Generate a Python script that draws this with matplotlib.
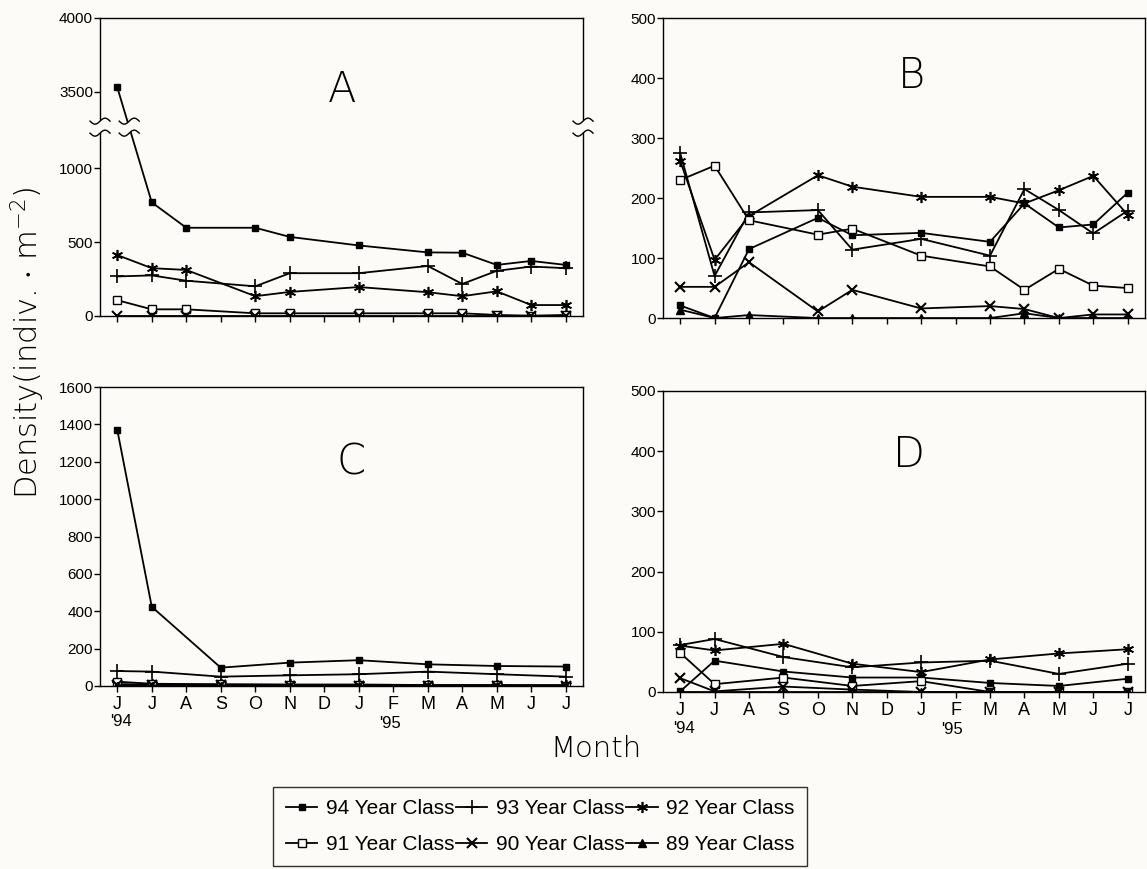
import numpy as np
import matplotlib
matplotlib.use('Agg')
import matplotlib.pyplot as plt
import matplotlib.patches as mpatches

plt.rcParams['font.family'] = ['Liberation Sans', 'DejaVu Sans']
plt.rcParams['mathtext.default'] = 'regular'

# Monate (Juni '94 - Juli '95)
months = ['J', 'J', 'A', 'S', 'O', 'N', 'D', 'J', 'F', 'M', 'A', 'M', 'J', 'J']
top_idx = [0, 1, 2, 4, 5, 7, 9, 10, 11, 12, 13]
bot_idx = [0, 1, 3, 5, 7, 9, 11, 13]

# Panel A
a94 = [3530, 770, 598, 598, 536, 478, 431, 429, 346, 373, 346]
a93 = [268, 275, 239, 201, 290, 290, 339, 217, 306, 335, 324]
a92 = [413, 324, 312, 134, 163, 196, 161, 134, 167, 74, 74]
a91 = [107, 45, 45, 18, 18, 18, 18, 18, 7, 2, 7]
a90 = [0, 0, 0, 0, 0, 0, 0, 0, 0, 0, 0]

# Panel B
b94 = [21, 0, 115, 167, 138, 142, 127, 191, 151, 156, 209]
b93 = [275, 70, 176, 180, 114, 132, 104, 215, 180, 141, 179]
b92 = [262, 97, 170, 238, 219, 202, 202, 191, 213, 237, 172]
b91 = [230, 254, 163, 139, 149, 104, 86, 47, 82, 54, 50]
b90 = [52, 52, 93, 11, 47, 16, 20, 15, 0, 6, 6]
b89 = [14, 0, 5, 0, 0, 0, 0, 8, 0, 0, 0]

# Panel C
c94 = [1371, 424, 98, 125, 138, 116, 107, 104]
c93 = [80, 77, 50, 57, 63, 77, 63, 50]
c92 = [10, 8, 8, 8, 8, 5, 5, 5]
c91 = [23, 12, 9, 6, 5, 4, 4, 2]
c90 = [5, 3, 3, 2, 2, 1, 1, 0]
c89 = [0, 0, 0, 0, 0, 0, 0, 0]

# Panel D
d94 = [1, 52, 34, 24, 24, 15, 10, 22]
d93 = [78, 88, 58, 41, 49, 52, 30, 47]
d92 = [77, 69, 80, 47, 33, 54, 64, 71]
d91 = [65, 13, 24, 10, 18, 0, 0, 0]
d90 = [23, 1, 9, 4, 0, 0, 0, 0]
d89 = [0, 0, 0, 0, 0, 0, 0, 0]

bg = '#fcfbf8'
styles = {
    '94': dict(marker='s', mfc='k', ms=5),
    '93': dict(marker='+', ms=10, mew=1.2),
    '92': dict(marker=(6, 2, 0), ms=8, mew=1.2),
    '91': dict(marker='s', mfc='white', ms=6, mew=1),
    '90': dict(marker='x', ms=7, mew=1.5),
    '89': dict(marker='^', mfc='k', ms=6),
}


def draw(ax, x, y, key):
    ax.plot(x, y, color='k', lw=1.3, mec='k', label=key + ' Year Class', **styles[key])


def tilde_break(ax, xc, yc, w, gap, amp):
    t = np.linspace(-1, 1, 40)
    xs = xc + t * w / 2
    y1 = yc + gap / 2 + amp * np.sin(np.pi * t)
    y2 = yc - gap / 2 + amp * np.sin(np.pi * t)
    poly = np.concatenate([np.column_stack([xs, y1]), np.column_stack([xs[::-1], y2[::-1]])])
    ax.add_patch(mpatches.Polygon(poly, closed=True, fc=bg, ec='none',
                                  transform=ax.transAxes, clip_on=False, zorder=5))
    ax.plot(xs, y1, color='k', lw=1, transform=ax.transAxes, clip_on=False, zorder=6)
    ax.plot(xs, y2, color='k', lw=1, transform=ax.transAxes, clip_on=False, zorder=6)


fig = plt.figure(figsize=(11.47, 8.69), dpi=100, facecolor=bg)
axA = fig.add_axes([0.0872, 0.6364, 0.4211, 0.3429])
axB = fig.add_axes([0.578, 0.634, 0.4202, 0.3452])
axC = fig.add_axes([0.0872, 0.2106, 0.4211, 0.344])
axD = fig.add_axes([0.578, 0.2037, 0.4202, 0.3464])

# A mit Achsenbruch
brk_lo, brk_hi, shift = 1280, 3270, 1980


def fwd(y):
    return np.interp(y, [-1e4, brk_lo, brk_hi, 1e5], [-1e4, brk_lo, brk_hi - shift, 1e5 - shift])


def inv(y):
    return np.interp(y, [-1e4, brk_lo, brk_hi - shift, 1e5 - shift], [-1e4, brk_lo, brk_hi, 1e5])


axA.set_yscale('function', functions=(fwd, inv))
draw(axA, top_idx, a94, '94')
draw(axA, top_idx, a93, '93')
draw(axA, top_idx, a92, '92')
draw(axA, top_idx, a91, '91')
draw(axA, top_idx, a90, '90')
axA.set_ylim(0, 4000)
axA.set_yticks([0, 500, 1000, 3500, 4000])

draw(axB, top_idx, b94, '94')
draw(axB, top_idx, b93, '93')
draw(axB, top_idx, b92, '92')
draw(axB, top_idx, b91, '91')
draw(axB, top_idx, b90, '90')
draw(axB, top_idx, b89, '89')
axB.set_ylim(0, 500)
axB.set_yticks([0, 100, 200, 300, 400, 500])

draw(axC, bot_idx, c94, '94')
draw(axC, bot_idx, c93, '93')
draw(axC, bot_idx, c92, '92')
draw(axC, bot_idx, c91, '91')
draw(axC, bot_idx, c90, '90')
draw(axC, bot_idx, c89, '89')
axC.set_ylim(0, 1600)
axC.set_yticks(range(0, 1601, 200))

draw(axD, bot_idx, d94, '94')
draw(axD, bot_idx, d93, '93')
draw(axD, bot_idx, d92, '92')
draw(axD, bot_idx, d91, '91')
draw(axD, bot_idx, d90, '90')
draw(axD, bot_idx, d89, '89')
axD.set_ylim(0, 500)
axD.set_yticks([0, 100, 200, 300, 400, 500])

for ax, letter, (lx, ly) in zip([axA, axB, axC, axD], 'ABCD',
                                [(0.5, 0.76), (0.515, 0.81), (0.52, 0.75), (0.51, 0.79)]):
    ax.set_xlim(-0.5, 13.5)
    ax.set_xticks(range(14))
    ax.set_facecolor(bg)
    ax.tick_params(direction='out', length=4, width=1, labelsize=11, pad=1)
    for s in ax.spines.values():
        s.set_linewidth(1)
    ax.text(lx, ly, letter, transform=ax.transAxes, fontsize=30, ha='center', va='center',
            fontfamily='DejaVu Sans', fontweight=200)

for ax in [axA, axB]:
    ax.set_xticklabels([])
for ax in [axC, axD]:
    ax.set_xticklabels(months, fontsize=13)
    ax.tick_params(axis='x', pad=3)
    ax.text(0.1, -0.095, "'94", transform=ax.get_xaxis_transform(), fontsize=12, ha='center', va='top')
    ax.text(7.9, -0.1, "'95", transform=ax.get_xaxis_transform(), fontsize=12, ha='center', va='top')

# Bruchzeichen in A
yb = (fwd(1285) - 0) / (fwd(4000) - 0)
w_ax = 20 / (0.4211 * 1147)
h_ax = 1 / (0.3429 * 869)
tilde_break(axA, 0, yb, w_ax, 12 * h_ax, 3 * h_ax)
tilde_break(axA, 1, yb, w_ax, 12 * h_ax, 3 * h_ax)
y0t, y1t = fwd(a94[0]), fwd(a94[1])
xcross = top_idx[0] + (y0t - fwd(1285)) / (y0t - y1t) * (top_idx[1] - top_idx[0])
tilde_break(axA, (xcross + 0.5) / 14, yb, w_ax, 12 * h_ax, 3 * h_ax)

fig.text(0.024, 0.605, 'Density(indiv. $\\cdot$ m$^{-2}$)', rotation=90, fontsize=22,
         ha='center', va='center', fontfamily='DejaVu Sans', fontweight=200)
fig.text(0.52, 0.138, 'Month', fontsize=21, ha='center', va='center',
         fontfamily='DejaVu Sans', fontweight=200)

h, l = axB.get_legend_handles_labels()
order = [0, 3, 1, 4, 2, 5]
leg = fig.legend([h[i] for i in order], [l[i] for i in order], ncol=3, loc='lower center',
                 bbox_to_anchor=(0.471, 0.003), fontsize=15, frameon=True, fancybox=False,
                 edgecolor='k', facecolor=bg, handlelength=1.5, handletextpad=0.4,
                 columnspacing=0.1, borderpad=0.6, labelspacing=0.8, borderaxespad=0)
leg.get_frame().set_linewidth(1)

fig.savefig('out.png', dpi=100, facecolor=bg)
